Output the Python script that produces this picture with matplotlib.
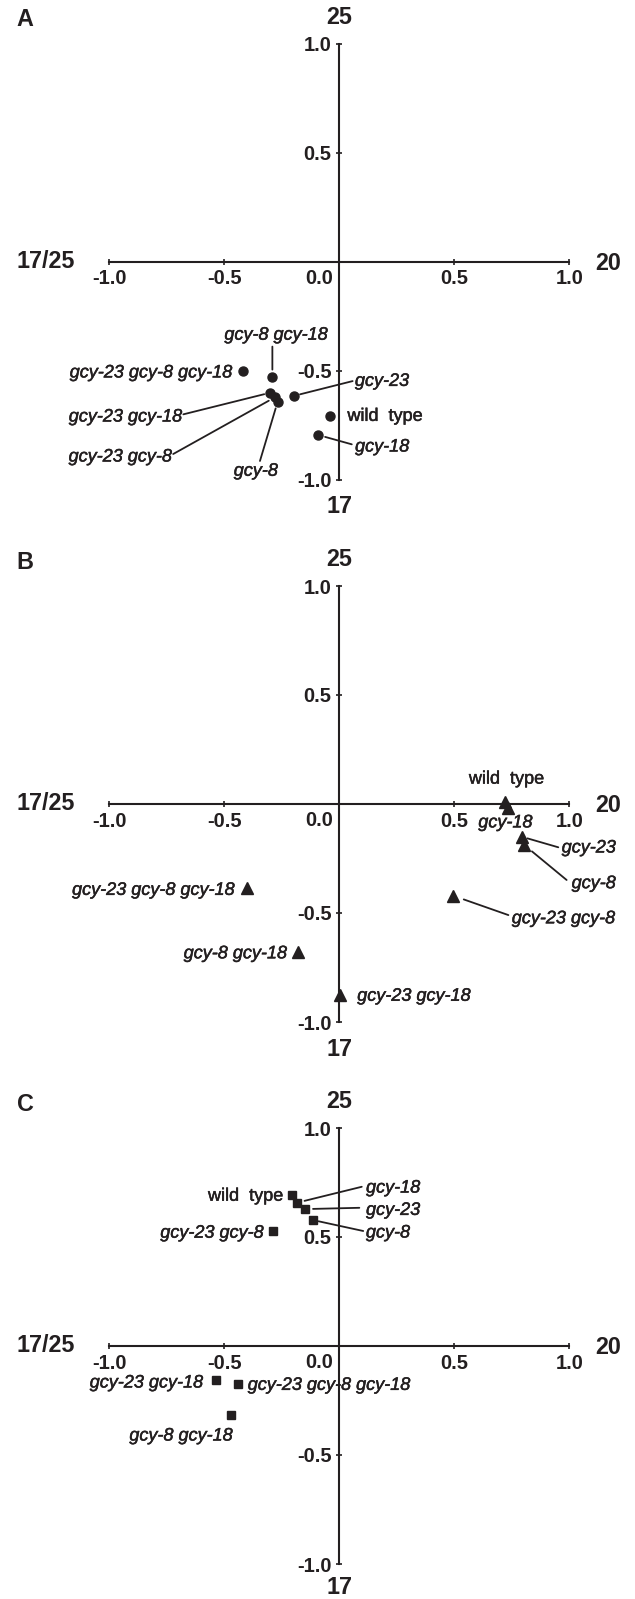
import matplotlib
matplotlib.use("Agg")
import matplotlib.pyplot as plt
import matplotlib.patheffects as pe

# ---------------- data ----------------
genotypes = ["wild type", "gcy-18", "gcy-23", "gcy-8", "gcy-23 gcy-8",
             "gcy-8 gcy-18", "gcy-23 gcy-18", "gcy-23 gcy-8 gcy-18"]

a_x = [-0.040, -0.091, -0.196, -0.268, -0.280, -0.291, -0.301, -0.420]
a_y = [-0.709, -0.796, -0.616, -0.643, -0.623, -0.528, -0.602, -0.502]

b_x = [0.720, 0.733, 0.793, 0.804, 0.496, -0.181, 0.004, -0.401]
b_y = [0.010, -0.020, -0.150, -0.188, -0.421, -0.678, -0.876, -0.387]

c_x = [-0.204, -0.185, -0.149, -0.116, -0.287, -0.472, -0.536, -0.439]
c_y = [0.693, 0.657, 0.628, 0.578, 0.528, -0.318, -0.156, -0.176]

x_ticks = [-1.0, -0.5, 0.0, 0.5, 1.0]
x_ticklabels = ["-1.0", "-0.5", "0.0", "0.5", "1.0"]
y_ticks = [-1.0, -0.5, 0.5, 1.0]
y_ticklabels = ["-1.0", "-0.5", "0.5", "1.0"]
panel_letters = ["A", "B", "C"]
label_top, label_bottom, label_left, label_right = "25", "17", "17/25", "20"

# ---------------- layout (pixels) ----------------
W, H, DPI = 635, 1599, 100
INK = "#231f20"
X_LEFT, X_RIGHT = 109.3, 569.3
Y_HALF = 218.0
axis_rows = [261.5, 804.0, 1346.0]
bottom_label_offsets = [-27, -27, -23]
markers = ["o", "^", "s"]
msizes = [6.5, 8.3, 6.3]

# label layout: name -> (dx, dy, ha, leader_end or None, gap_px)  (dy up)
layout_a = {
    "wild type": (17.3, 1.7, "left", None, 0),
    "gcy-18": (36.7, -10.0, "left", (33.4, -9.3), 7),
    "gcy-23": (60.7, 16.4, "left", (58.4, 14.7), 6),
    "gcy-8 gcy-18": (3.5, 43.4, "center", (0.0, 30.0), 7),
    "gcy-23 gcy-8 gcy-18": (-11.0, 0.0, "right", None, 0),
    "gcy-23 gcy-18": (-88.3, -22.3, "right", (-86.7, -21.6), 6),
    "gcy-23 gcy-8": (-103.3, -57.7, "right", (-101.7, -56.7), 7),
    "gcy-8": (-21.9, -67.6, "center", (-17.7, -59.3), 7),
}
layout_b = {
    "wild type": (1.7, 24.7, "center", None, 0),
    "gcy-18": (-2.6, -12.5, "center", None, 0),
    "gcy-23": (40.0, -9.3, "left", (36.6, -10.6), 6),
    "gcy-8": (47.4, -36.7, "left", (42.4, -35.0), 10),
    "gcy-23 gcy-8": (58.4, -21.0, "left", (55.0, -19.3), 11),
    "gcy-23 gcy-8 gcy-18": (-13.0, 0.0, "right", None, 0),
    "gcy-8 gcy-18": (-11.0, 0.0, "right", None, 0),
    "gcy-23 gcy-18": (17.0, 0.7, "left", None, 0),
}
layout_c = {
    "wild type": (-9.0, 0.7, "right", None, 0),
    "gcy-18": (69.3, 16.7, "left", (65.0, 16.0), 8),
    "gcy-23": (61.0, 0.7, "left", (54.3, 1.3), 8),
    "gcy-8": (53.3, -11.0, "left", (50.6, -11.0), 6),
    "gcy-23 gcy-8": (-10.0, -0.3, "right", None, 0),
    "gcy-23 gcy-18": (-13.3, -1.0, "right", None, 0),
    "gcy-23 gcy-8 gcy-18": (9.4, 1.0, "left", None, 0),
    "gcy-8 gcy-18": (1.6, -18.7, "right", None, 0),
}

FONT = "Liberation Sans"
stroke = [pe.withStroke(linewidth=0.35, foreground=INK)]
fig = plt.figure(figsize=(W / DPI, H / DPI), dpi=DPI)
fig.patch.set_facecolor("white")

panels = [(a_x, a_y, layout_a), (b_x, b_y, layout_b), (c_x, c_y, layout_c)]

for i, (xs, ys, lay) in enumerate(panels):
    yc = axis_rows[i]
    left = X_LEFT / W
    width = (X_RIGHT - X_LEFT) / W
    bottom = 1 - (yc + Y_HALF) / H
    height = 2 * Y_HALF / H
    ax = fig.add_axes([left, bottom, width, height])
    ax.set_xlim(-1, 1)
    ax.set_ylim(-1, 1)
    ax.patch.set_alpha(0)
    for s in ["top", "right"]:
        ax.spines[s].set_visible(False)
    for s in ["left", "bottom"]:
        ax.spines[s].set_position("zero")
        ax.spines[s].set_linewidth(1.5)
        ax.spines[s].set_color(INK)
    ax.set_xticks(x_ticks)
    ax.set_xticklabels([t if t != "0.0" else "" for t in x_ticklabels])
    ax.set_yticks(y_ticks)
    ax.set_yticklabels(y_ticklabels)
    ax.tick_params(direction="inout", length=5, width=1.2, color=INK,
                   labelcolor=INK, labelsize=14.5, pad=3)
    for lbl in ax.get_xticklabels() + ax.get_yticklabels():
        lbl.set_fontfamily(FONT)
        lbl.set_fontweight("bold")
    # 0.0 label placed left of the vertical axis
    ax.annotate("0.0", xy=(0, 0), xytext=(-6, -7), textcoords="offset pixels",
                ha="right", va="top", fontsize=14.5, fontweight="bold",
                family=FONT, color=INK)

    # points
    ax.plot(xs, ys, linestyle="none", marker=markers[i], ms=msizes[i],
            color=INK, mec=INK, clip_on=False, zorder=4)

    # labels and leader lines
    for name, x, y in zip(genotypes, xs, ys):
        dx, dy, ha, lead, gap = lay[name]
        style = "normal" if name == "wild type" else "italic"
        txt = "wild  type" if name == "wild type" else name
        ax.annotate(txt, xy=(x, y), xytext=(dx, dy), textcoords="offset pixels",
                    ha=ha, va="center_baseline", fontsize=13, fontstyle=style,
                    family=FONT, color=INK, zorder=5, path_effects=stroke)
        if lead is not None:
            ax.annotate("", xy=(x, y), xytext=lead, textcoords="offset pixels",
                        arrowprops=dict(arrowstyle="-", color=INK, lw=1.3,
                                        shrinkA=0, shrinkB=gap * 0.72))

    # axis end labels
    big = dict(fontsize=16.8, fontweight="bold", family=FONT, color=INK,
               ha="center", va="center", textcoords="offset pixels")
    ax.annotate(label_top, xy=(0, 1), xytext=(0, 26), **big)
    ax.annotate(label_bottom, xy=(0, -1), xytext=(0, bottom_label_offsets[i]), **big)
    ax.annotate(label_left, xy=(-1, 0), xytext=(-64, 0), **big)
    ax.annotate(label_right, xy=(1, 0), xytext=(39, -1.5), **big)
    ax.annotate(panel_letters[i], xy=(-1, 1), xytext=(25 - X_LEFT, 23.5), **big)

fig.savefig("out.png", dpi=DPI, facecolor="white")
